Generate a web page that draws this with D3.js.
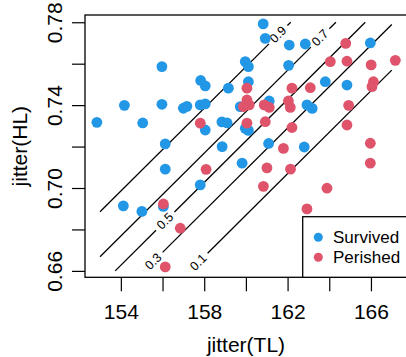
<!DOCTYPE html>
<html>
<head>
<meta charset="utf-8">
<script src="https://cdn.jsdelivr.net/npm/d3@7"></script>
<style>
  body { margin: 0; background: #fff; }
  svg text { font-family: "Liberation Sans", Arial, sans-serif; fill: #000; }
</style>
</head>
<body>
<svg id="main_svg_container" width="406" height="357"></svg>
<script>
// values
var survived_TL = [152.85, 154.17, 155.05, 155.97, 155.97, 157.00, 157.17, 157.83, 158.05, 157.81,
  158.05, 159.16, 159.97, 160.12, 160.12, 160.83, 160.93, 158.05, 158.85, 159.10,
  159.73, 162.08, 162.85, 162.05, 165.97, 163.81, 164.85, 163.18, 159.97, 160.12,
  161.09, 162.80, 158.86, 159.82, 157.81, 156.13, 156.13, 154.12, 155.01, 156.04,
  161.12, 162.93];
var survived_HL = [0.7317, 0.7399, 0.7314, 0.7586, 0.7404, 0.7385, 0.7394, 0.7519, 0.7493, 0.7401,
  0.7406, 0.7482, 0.7610, 0.7586, 0.7513, 0.7792, 0.7722, 0.7280, 0.7319, 0.7314,
  0.7393, 0.7690, 0.7695, 0.7592, 0.7700, 0.7513, 0.7497, 0.7384, 0.7288, 0.7278,
  0.7215, 0.7198, 0.7200, 0.7120, 0.7015, 0.7213, 0.7091, 0.6914, 0.6887, 0.6911,
  0.7420, 0.7401];

var perished_TL = [157.81, 160.05, 160.05, 159.88, 160.16, 160.88, 161.12, 160.05, 160.93, 162.04,
  162.13, 162.21, 161.80, 161.01, 162.14, 158.09, 160.84, 156.04, 156.85, 156.13,
  164.79, 164.05, 164.85, 166.01, 167.17, 162.21, 163.09, 166.12, 166.05, 164.93,
  164.85, 165.97, 165.97, 163.89, 162.93];
var perished_HL = [0.7313, 0.7482, 0.7425, 0.7393, 0.7401, 0.7401, 0.7389, 0.7313, 0.7320, 0.7420,
  0.7389, 0.7292, 0.7191, 0.7097, 0.7091, 0.7090, 0.7008, 0.6923, 0.6806, 0.6619,
  0.7698, 0.7610, 0.7612, 0.7594, 0.7616, 0.7482, 0.7484, 0.7513, 0.7489, 0.7399,
  0.7304, 0.7216, 0.7120, 0.6999, 0.6899];

// probability contours: level, end points (TL, HL) and where the label sits (TL)
var contour_levels = [0.9, 0.7, 0.5, 0.3, 0.1];
var contour_from = [[153, 0.6885], [153, 0.6668], [153.73, 0.66], [155.11, 0.66], [157.31, 0.66]];
var contour_to = [[162.15, 0.78], [164.32, 0.78], [165.73, 0.78], [167, 0.7789], [167, 0.7569]];
var contour_label_TL = [161.55, 163.56, 156.13, 155.56, 157.72];

var x_ticks = [154, 156, 158, 160, 162, 164, 166, 168];
var x_tick_labels = ["154", "", "158", "", "162", "", "166", ""];
var y_ticks = [0.66, 0.68, 0.70, 0.72, 0.74, 0.76, 0.78];
var y_tick_labels = ["0.66", "", "0.70", "", "0.74", "", "0.78"];

var legend_labels = ["Survived", "Perished"];
var group_colors = ["#2297E6", "#DF536B"];

var plot_left = 85, plot_right = 407, plot_top = 15, plot_bottom = 277.3;

var x = d3.scaleLinear().domain([152.28, 167.73]).range([plot_left, plot_right]);
var y = d3.scaleLinear().domain([0.6569, 0.7835]).range([plot_bottom, plot_top]);

var svg = d3.select("#main_svg_container");

drawAxes();
drawContours();
drawPoints();
drawBox();
drawLegend();


function drawAxes() {
  var x_axis = svg.append("g")
      .attr("transform", "translate(0," + plot_bottom + ")")
      .call(d3.axisBottom(x)
        .tickValues(x_ticks)
        .tickSize(14)
        .tickFormat(function(d, i) { return x_tick_labels[i]; }));
  x_axis.select(".domain").remove();
  x_axis.selectAll("line").attr("stroke", "#000").attr("stroke-width", 1.2);
  x_axis.selectAll("text")
      .attr("y", 42)
      .attr("dy", 0)
      .attr("font-size", 21)
      .attr("fill", "#000");

  var y_axis = svg.append("g")
      .attr("transform", "translate(" + plot_left + ",0)")
      .call(d3.axisLeft(y)
        .tickValues(y_ticks)
        .tickSize(13)
        .tickFormat(function(d, i) { return y_tick_labels[i]; }));
  y_axis.select(".domain").remove();
  y_axis.selectAll("line").attr("stroke", "#000").attr("stroke-width", 1.2);
  y_axis.selectAll("text")
      .attr("transform", "rotate(-90)")
      .attr("x", 0)
      .attr("y", -23.5)
      .attr("dy", 0)
      .attr("text-anchor", "middle")
      .attr("font-size", 21)
      .attr("fill", "#000");

  // axis titles
  svg.append("text")
      .attr("x", (plot_left + plot_right) / 2)
      .attr("y", 352)
      .attr("text-anchor", "middle")
      .attr("font-size", 21)
      .text("jitter(TL)");

  svg.append("text")
      .attr("transform", "translate(19," + (plot_top + plot_bottom) / 2 + ") rotate(-90)")
      .attr("text-anchor", "middle")
      .attr("dominant-baseline", "central")
      .attr("font-size", 21)
      .text("jitter(HL)");
}


function drawContours() {
  var gap = 13;
  var g = svg.append("g");

  contour_levels.forEach(function(level, i) {
    var x0 = x(contour_from[i][0]), y0 = y(contour_from[i][1]);
    var x1 = x(contour_to[i][0]), y1 = y(contour_to[i][1]);
    var len = Math.hypot(x1 - x0, y1 - y0);
    var ux = (x1 - x0) / len, uy = (y1 - y0) / len;

    // label position along the line
    var t = (x(contour_label_TL[i]) - x0) / ux;
    var lx = x0 + ux * t, ly = y0 + uy * t;

    var pieces = [];
    if (t - gap > 0) pieces.push([0, t - gap]);
    if (t + gap < len) pieces.push([t + gap, len]);

    pieces.forEach(function(p) {
      g.append("line")
          .attr("x1", x0 + ux * p[0])
          .attr("y1", y0 + uy * p[0])
          .attr("x2", x0 + ux * p[1])
          .attr("y2", y0 + uy * p[1])
          .attr("stroke", "#000")
          .attr("stroke-width", 1.3);
    });

    var angle = Math.atan2(uy, ux) * 180 / Math.PI;
    g.append("text")
        .attr("transform", "translate(" + lx + "," + ly + ") rotate(" + angle + ")")
        .attr("text-anchor", "middle")
        .attr("dominant-baseline", "central")
        .attr("font-size", 12.6)
        .text(level);
  });
}


function drawPoints() {
  var groups = [
    {tl: survived_TL, hl: survived_HL, color: group_colors[0]},
    {tl: perished_TL, hl: perished_HL, color: group_colors[1]}
  ];

  groups.forEach(function(grp) {
    svg.append("g")
      .selectAll("circle")
      .data(d3.range(grp.tl.length))
      .enter()
      .append("circle")
        .attr("cx", function(i) { return x(grp.tl[i]); })
        .attr("cy", function(i) { return y(grp.hl[i]); })
        .attr("r", 5.4)
        .attr("fill", grp.color);
  });
}


function drawBox() {
  svg.append("rect")
      .attr("x", plot_left)
      .attr("y", plot_top)
      .attr("width", plot_right - plot_left)
      .attr("height", plot_bottom - plot_top)
      .attr("fill", "none")
      .attr("stroke", "#000")
      .attr("stroke-width", 1.3);
}


function drawLegend() {
  var lg = svg.append("g");

  lg.append("rect")
      .attr("x", 302.7)
      .attr("y", 216.7)
      .attr("width", 130)
      .attr("height", plot_bottom - 216.7)
      .attr("fill", "#fff")
      .attr("stroke", "#000")
      .attr("stroke-width", 1.3);

  legend_labels.forEach(function(label, i) {
    lg.append("circle")
        .attr("cx", 318.3)
        .attr("cy", 237.3 + i * 20)
        .attr("r", 4.5)
        .attr("fill", group_colors[i]);

    lg.append("text")
        .attr("x", 333)
        .attr("y", 237.3 + i * 20)
        .attr("dominant-baseline", "central")
        .attr("font-size", 17)
        .text(label);
  });
}
</script>
</body>
</html>
